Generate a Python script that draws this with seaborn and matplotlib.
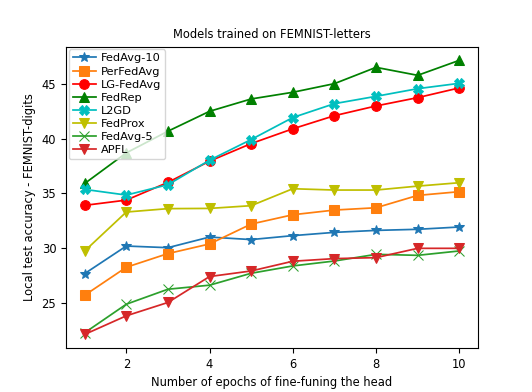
import pandas as pd
import seaborn as sns
import matplotlib.pyplot as plt

epochs = [1, 2, 3, 4, 5, 6, 7, 8, 9, 10]
fedavg10 = [27.66, 30.18, 30.03, 31.0, 30.77, 31.13, 31.43, 31.61, 31.71, 31.92]
perfedavg = [25.68, 28.24, 29.49, 30.37, 32.19, 33.04, 33.47, 33.68, 34.81, 35.15]
lgfedavg = [33.9, 34.38, 36.0, 37.94, 39.55, 40.9, 42.1, 42.99, 43.75, 44.64]
fedrep = [35.9, 38.7, 40.68, 42.5, 43.63, 44.24, 45.03, 46.52, 45.79, 47.16]
l2gd = [35.36, 34.84, 35.79, 38.03, 39.92, 41.93, 43.2, 43.87, 44.57, 45.06]
fedprox = [29.73, 33.29, 33.6, 33.62, 33.87, 35.42, 35.3, 35.3, 35.66, 35.97]
fedavg5 = [22.25, 24.86, 26.23, 26.6, 27.69, 28.36, 28.81, 29.42, 29.33, 29.73]
apfl = [22.1, 23.8, 25.02, 27.39, 27.9, 28.79, 29.03, 29.12, 29.97, 29.97]

series = [
    ('FedAvg-10', fedavg10, 'tab:blue', '*'),
    ('PerFedAvg', perfedavg, 'tab:orange', 's'),
    ('LG-FedAvg', lgfedavg, 'r', 'o'),
    ('FedRep', fedrep, 'g', '^'),
    ('L2GD', l2gd, 'c', 'X'),
    ('FedProx', fedprox, 'y', 'v'),
    ('FedAvg-5', fedavg5, 'tab:green', 'x'),
    ('APFL', apfl, 'tab:red', 'v'),
]

plt.rcParams['font.size'] = 8.3
fig = plt.figure(figsize=(5.32, 3.92), dpi=100)
ax = fig.add_axes([0.124, 0.112, 0.7745, 0.769])

for name, vals, col, mk in series:
    df = pd.DataFrame({'epoch': epochs, 'acc': vals})
    sns.lineplot(data=df, x='epoch', y='acc', ax=ax, color=col, marker=mk,
                 markersize=7, linewidth=1.25, markeredgecolor=col,
                 label=name)

ax.set_title('Models trained on FEMNIST-letters', fontsize=8.3)
ax.set_xlabel('Number of epochs of fine-funing the head')
ax.set_ylabel('Local test accuracy - FEMNIST-digits')
ax.set_xticks([2, 4, 6, 8, 10])
ax.legend(loc='upper left', fontsize=8.2, labelspacing=0.27,
          handlelength=2.0, handletextpad=0.45, borderpad=0.35,
          borderaxespad=0.25)

fig.savefig('out.png', dpi=100)
